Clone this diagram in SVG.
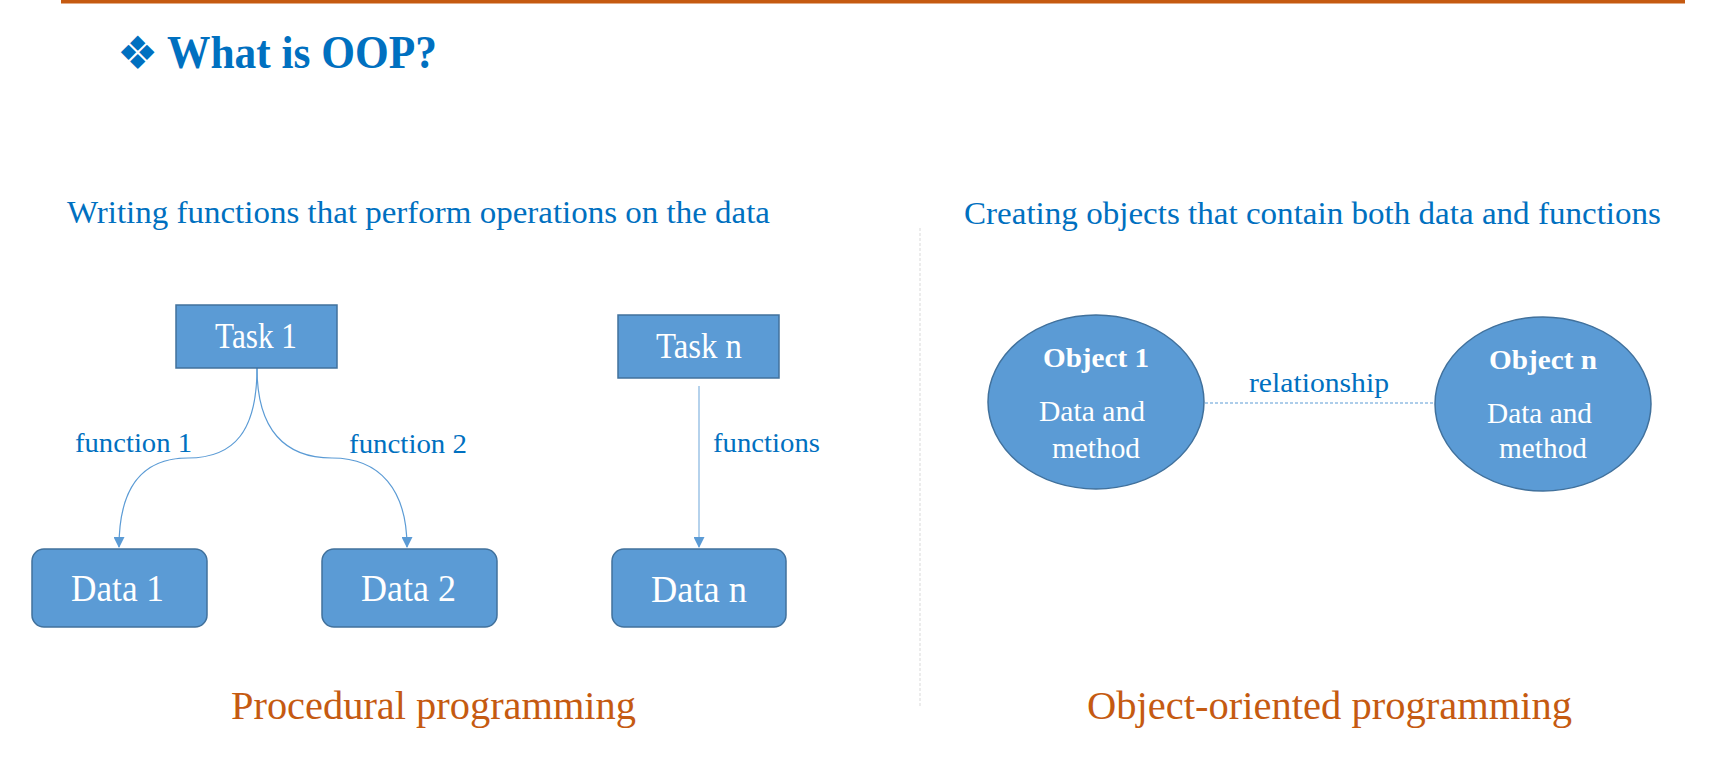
<svg xmlns="http://www.w3.org/2000/svg" width="1726" height="768" viewBox="0 0 1726 768">
  <style>
    .serif { font-family: "Liberation Serif", "Times New Roman", serif; }
    .head { font-size: 31px; fill: #0070C0; }
    .lbl { font-size: 28px; fill: #0070C0; }
    .caption { font-size: 41px; fill: #C55A11; }
    .box { fill: #5B9BD5; stroke: #41719C; stroke-width: 1.5; }
    .boxtxt { fill: #FFFFFF; }
    .conn { fill: none; stroke: #5B9BD5; stroke-width: 1.2; }
  </style>
  <defs>
    <marker id="arrow" markerWidth="11" markerHeight="11" refX="10" refY="5.5" orient="auto" markerUnits="userSpaceOnUse">
      <path d="M0,0 L11,5.5 L0,11 Z" fill="#5B9BD5"/>
    </marker>
  </defs>

  <rect width="1726" height="768" fill="#FFFFFF"/>

  <!-- header rule and title -->
  <rect x="61" y="0" width="1624" height="3.5" fill="#C55A11"/>
  <text x="117" y="69" font-family="DejaVu Sans, sans-serif" font-size="46" fill="#0070C0">❖</text>
  <text class="serif" x="167" y="68" font-size="46" font-weight="bold" fill="#0070C0" textLength="270" lengthAdjust="spacingAndGlyphs">What is OOP?</text>

  <!-- section headings -->
  <text class="serif head" x="67" y="223" textLength="703" lengthAdjust="spacingAndGlyphs">Writing functions that perform operations on the data</text>
  <text class="serif head" x="964" y="224" textLength="697" lengthAdjust="spacingAndGlyphs">Creating objects that contain both data and functions</text>

  <!-- divider -->
  <line x1="920" y1="228" x2="920" y2="706" stroke="#D9D9D9" stroke-width="1" stroke-dasharray="3,2"/>

  <!-- connectors -->
  <g id="connectors">
    <path class="conn" d="M257,368 C257,430 235,458 188,458 C140,458 119,490 119,547" marker-end="url(#arrow)"/>
    <path class="conn" d="M257,368 C257,430 285,458 332,458 C380,458 407,490 407,547" marker-end="url(#arrow)"/>
    <line x1="699" y1="386" x2="699" y2="547" stroke="#9DC3E6" stroke-width="1.5" marker-end="url(#arrow)"/>
    <line x1="1205" y1="403" x2="1435" y2="403" stroke="#5B9BD5" stroke-width="1" stroke-dasharray="3,2"/>
    <text class="serif lbl" x="75" y="452" textLength="117" lengthAdjust="spacingAndGlyphs">function 1</text>
    <text class="serif lbl" x="349" y="453" textLength="118" lengthAdjust="spacingAndGlyphs">function 2</text>
    <text class="serif lbl" x="713" y="452" textLength="107" lengthAdjust="spacingAndGlyphs">functions</text>
    <text class="serif lbl" x="1249" y="392" textLength="140" lengthAdjust="spacingAndGlyphs">relationship</text>
  </g>

  <!-- procedural side -->
  <g id="task1">
    <rect class="box" x="176" y="305" width="161" height="63"/>
    <text class="serif boxtxt" x="215" y="348" font-size="35" textLength="82" lengthAdjust="spacingAndGlyphs">Task 1</text>
  </g>
  <g id="taskn">
    <rect class="box" x="618" y="315" width="161" height="63"/>
    <text class="serif boxtxt" x="656" y="358" font-size="35" textLength="86" lengthAdjust="spacingAndGlyphs">Task n</text>
  </g>
  <g id="data1">
    <rect class="box" x="32" y="549" width="175" height="78" rx="12"/>
    <text class="serif boxtxt" x="71" y="601" font-size="38" textLength="93" lengthAdjust="spacingAndGlyphs">Data 1</text>
  </g>
  <g id="data2">
    <rect class="box" x="322" y="549" width="175" height="78" rx="12"/>
    <text class="serif boxtxt" x="361" y="601" font-size="38" textLength="95" lengthAdjust="spacingAndGlyphs">Data 2</text>
  </g>
  <g id="datan">
    <rect class="box" x="612" y="549" width="174" height="78" rx="12"/>
    <text class="serif boxtxt" x="651" y="602" font-size="38" textLength="96" lengthAdjust="spacingAndGlyphs">Data n</text>
  </g>

  <!-- object-oriented side -->
  <g id="object1">
    <ellipse class="box" cx="1096" cy="402" rx="108" ry="87"/>
    <text class="serif boxtxt" x="1043" y="367" font-size="28" font-weight="bold" textLength="106" lengthAdjust="spacingAndGlyphs">Object 1</text>
    <text class="serif boxtxt" x="1039" y="421" font-size="29" textLength="106" lengthAdjust="spacingAndGlyphs">Data and</text>
    <text class="serif boxtxt" x="1052" y="458" font-size="29" textLength="88" lengthAdjust="spacingAndGlyphs">method</text>
  </g>
  <g id="objectn">
    <ellipse class="box" cx="1543" cy="404" rx="108" ry="87"/>
    <text class="serif boxtxt" x="1489" y="369" font-size="28" font-weight="bold" textLength="108" lengthAdjust="spacingAndGlyphs">Object n</text>
    <text class="serif boxtxt" x="1487" y="423" font-size="29" textLength="105" lengthAdjust="spacingAndGlyphs">Data and</text>
    <text class="serif boxtxt" x="1499" y="458" font-size="29" textLength="88" lengthAdjust="spacingAndGlyphs">method</text>
  </g>

  <!-- captions -->
  <text class="serif caption" x="231" y="719" textLength="405" lengthAdjust="spacingAndGlyphs">Procedural programming</text>
  <text class="serif caption" x="1087" y="719" textLength="485" lengthAdjust="spacingAndGlyphs">Object-oriented programming</text>
</svg>
